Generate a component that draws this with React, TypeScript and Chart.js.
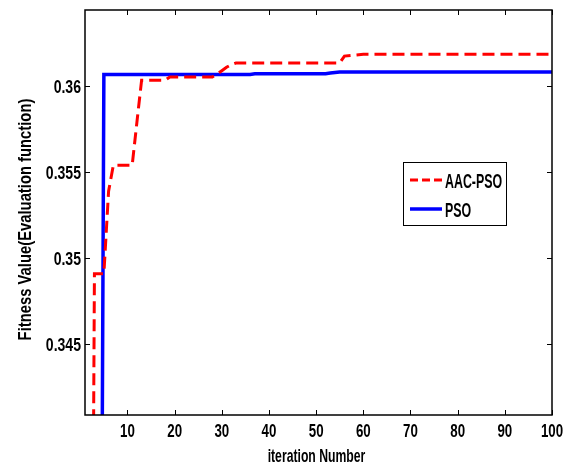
import { useEffect, useRef } from "react";
import { Chart, registerables } from "chart.js";
Chart.register(...registerables);

const xTickValues = [10, 20, 30, 40, 50, 60, 70, 80, 90, 100];
const xTickLabels = ["10", "20", "30", "40", "50", "60", "70", "80", "90", "100"];
const yTickValues = [0.345, 0.35, 0.355, 0.36];
const yTickLabels = ["0.345", "0.35", "0.355", "0.36"];
const xTitle = "iteration Number";
const yTitle = "Fitness Value(Evaluation function)";

const aacLabel = "AAC-PSO";
const aacX = [1, 2, 3, 5, 6, 7, 11, 12, 13, 18, 19, 28, 29, 30, 31, 32, 33, 55, 56, 60, 100];
const aacY = [0.3, 0.3, 0.3491, 0.3491, 0.3539, 0.3554, 0.3554, 0.3579, 0.36035, 0.36035, 0.36054, 0.36054, 0.3607, 0.3609, 0.3611, 0.36125, 0.36135, 0.36135, 0.36175, 0.36186, 0.36186];

const psoLabel = "PSO";
const psoX = [1, 4, 5, 36, 37, 52, 53, 54, 55, 56, 100];
const psoY = [0.3, 0.3, 0.36068, 0.36068, 0.36072, 0.36073, 0.36077, 0.3608, 0.36082, 0.36083, 0.36083];

const FONT = '"Liberation Sans", Arial, sans-serif';

function drawText(
  ctx: CanvasRenderingContext2D,
  text: string,
  x: number,
  y: number,
  size: number,
  sx: number,
  align: CanvasTextAlign,
  rot = 0
) {
  ctx.save();
  ctx.translate(x, y);
  if (rot) ctx.rotate(rot);
  ctx.scale(sx, 1);
  ctx.font = `bold ${size}px ${FONT}`;
  ctx.textAlign = align;
  ctx.textBaseline = "alphabetic";
  ctx.fillStyle = "#000";
  ctx.fillText(text, 0, 0);
  ctx.restore();
}

const framePlugin = {
  id: "frame",
  afterDatasetsDraw(chart: any) {
    const { ctx, chartArea: a, scales } = chart;
    ctx.save();
    ctx.strokeStyle = "#000";
    ctx.lineWidth = 1.5;
    ctx.strokeRect(a.left, a.top, a.right - a.left, a.bottom - a.top);
    ctx.lineWidth = 1;
    const tl = 5;
    ctx.beginPath();
    for (const v of xTickValues) {
      const px = Math.round(scales.x.getPixelForValue(v)) + 0.5;
      ctx.moveTo(px, a.bottom); ctx.lineTo(px, a.bottom - tl);
      ctx.moveTo(px, a.top); ctx.lineTo(px, a.top + tl);
    }
    for (const v of yTickValues) {
      const py = Math.round(scales.y.getPixelForValue(v)) + 0.5;
      ctx.moveTo(a.left, py); ctx.lineTo(a.left + tl, py);
      ctx.moveTo(a.right, py); ctx.lineTo(a.right - tl, py);
    }
    ctx.stroke();

    // tick labels
    xTickValues.forEach((v, i) => {
      const px = scales.x.getPixelForValue(v);
      drawText(ctx, xTickLabels[i], px, a.bottom + 22, 19, 0.7, "center");
    });
    yTickValues.forEach((v, i) => {
      const py = scales.y.getPixelForValue(v);
      drawText(ctx, yTickLabels[i], a.left - 4, py + 7, 19, 0.74, "right");
    });
    // axis titles
    drawText(ctx, xTitle, (a.left + a.right) / 2 - 2, 462, 18.5, 0.66, "center");
    drawText(ctx, yTitle, 31, (a.top + a.bottom) / 2 + 7, 18.5, 0.8, "center", -Math.PI / 2);

    // legend
    const bx = 403, by = 162, bw = 103, bh = 63;
    ctx.fillStyle = "#fff";
    ctx.fillRect(bx, by, bw, bh);
    ctx.lineWidth = 1;
    ctx.strokeStyle = "#000";
    ctx.strokeRect(bx + 0.5, by + 0.5, bw, bh);
    const rows = [by + 18, by + 47];
    chart.data.datasets.forEach((ds: any, i: number) => {
      const y = rows[i];
      ctx.beginPath();
      ctx.strokeStyle = ds.borderColor;
      ctx.lineWidth = ds.borderWidth;
      ctx.setLineDash(ds.borderDash ? [8, 4] : []);
      ctx.moveTo(bx + 7, y);
      ctx.lineTo(bx + 39, y);
      ctx.stroke();
      ctx.setLineDash([]);
      drawText(ctx, ds.label, bx + 42, y + 7.5, 20, 0.62, "left");
    });
    ctx.restore();
  },
};

export default function App() {
  const ref = useRef<HTMLCanvasElement | null>(null);
  useEffect(() => {
    document.body.style.margin = "0";
    const c = new Chart(ref.current!, {
      type: "line",
      data: {
        datasets: [
          {
            label: aacLabel,
            data: aacX.map((x, i) => ({ x, y: aacY[i] })),
            borderColor: "#ff0000",
            borderWidth: 3,
            borderDash: [12, 6],
            pointRadius: 0,
            fill: false,
            tension: 0,
            clip: 0,
          },
          {
            label: psoLabel,
            data: psoX.map((x, i) => ({ x, y: psoY[i] })),
            borderColor: "#0000ff",
            borderWidth: 3.5,
            pointRadius: 0,
            fill: false,
            tension: 0,
            clip: 0,
          },
        ],
      },
      options: {
        animation: false,
        responsive: false,
        devicePixelRatio: 1,
        layout: { padding: { top: 10, right: 14, left: 0, bottom: 0 } },
        plugins: { legend: { display: false }, tooltip: { enabled: false } },
        scales: {
          x: {
            type: "linear",
            min: 1,
            max: 100,
            grid: { display: false, drawTicks: false },
            border: { display: false },
            afterBuildTicks: (s: any) => { s.ticks = xTickValues.map((v) => ({ value: v })); },
            afterFit: (s: any) => { s.height = 51; },
            ticks: { display: false },
          },
          y: {
            type: "linear",
            min: 0.34089,
            max: 0.36443,
            grid: { display: false, drawTicks: false },
            border: { display: false },
            afterBuildTicks: (s: any) => { s.ticks = yTickValues.map((v) => ({ value: v })); },
            afterFit: (s: any) => { s.width = 85; },
            ticks: { display: false },
          },
        },
      },
      plugins: [framePlugin],
    } as any);
    return () => c.destroy();
  }, []);
  return (
    <div style={{ position: "absolute", left: 0, top: 0, width: 566, height: 466, background: "#fff" }}>
      <canvas ref={ref} width={566} height={466} />
    </div>
  );
}
